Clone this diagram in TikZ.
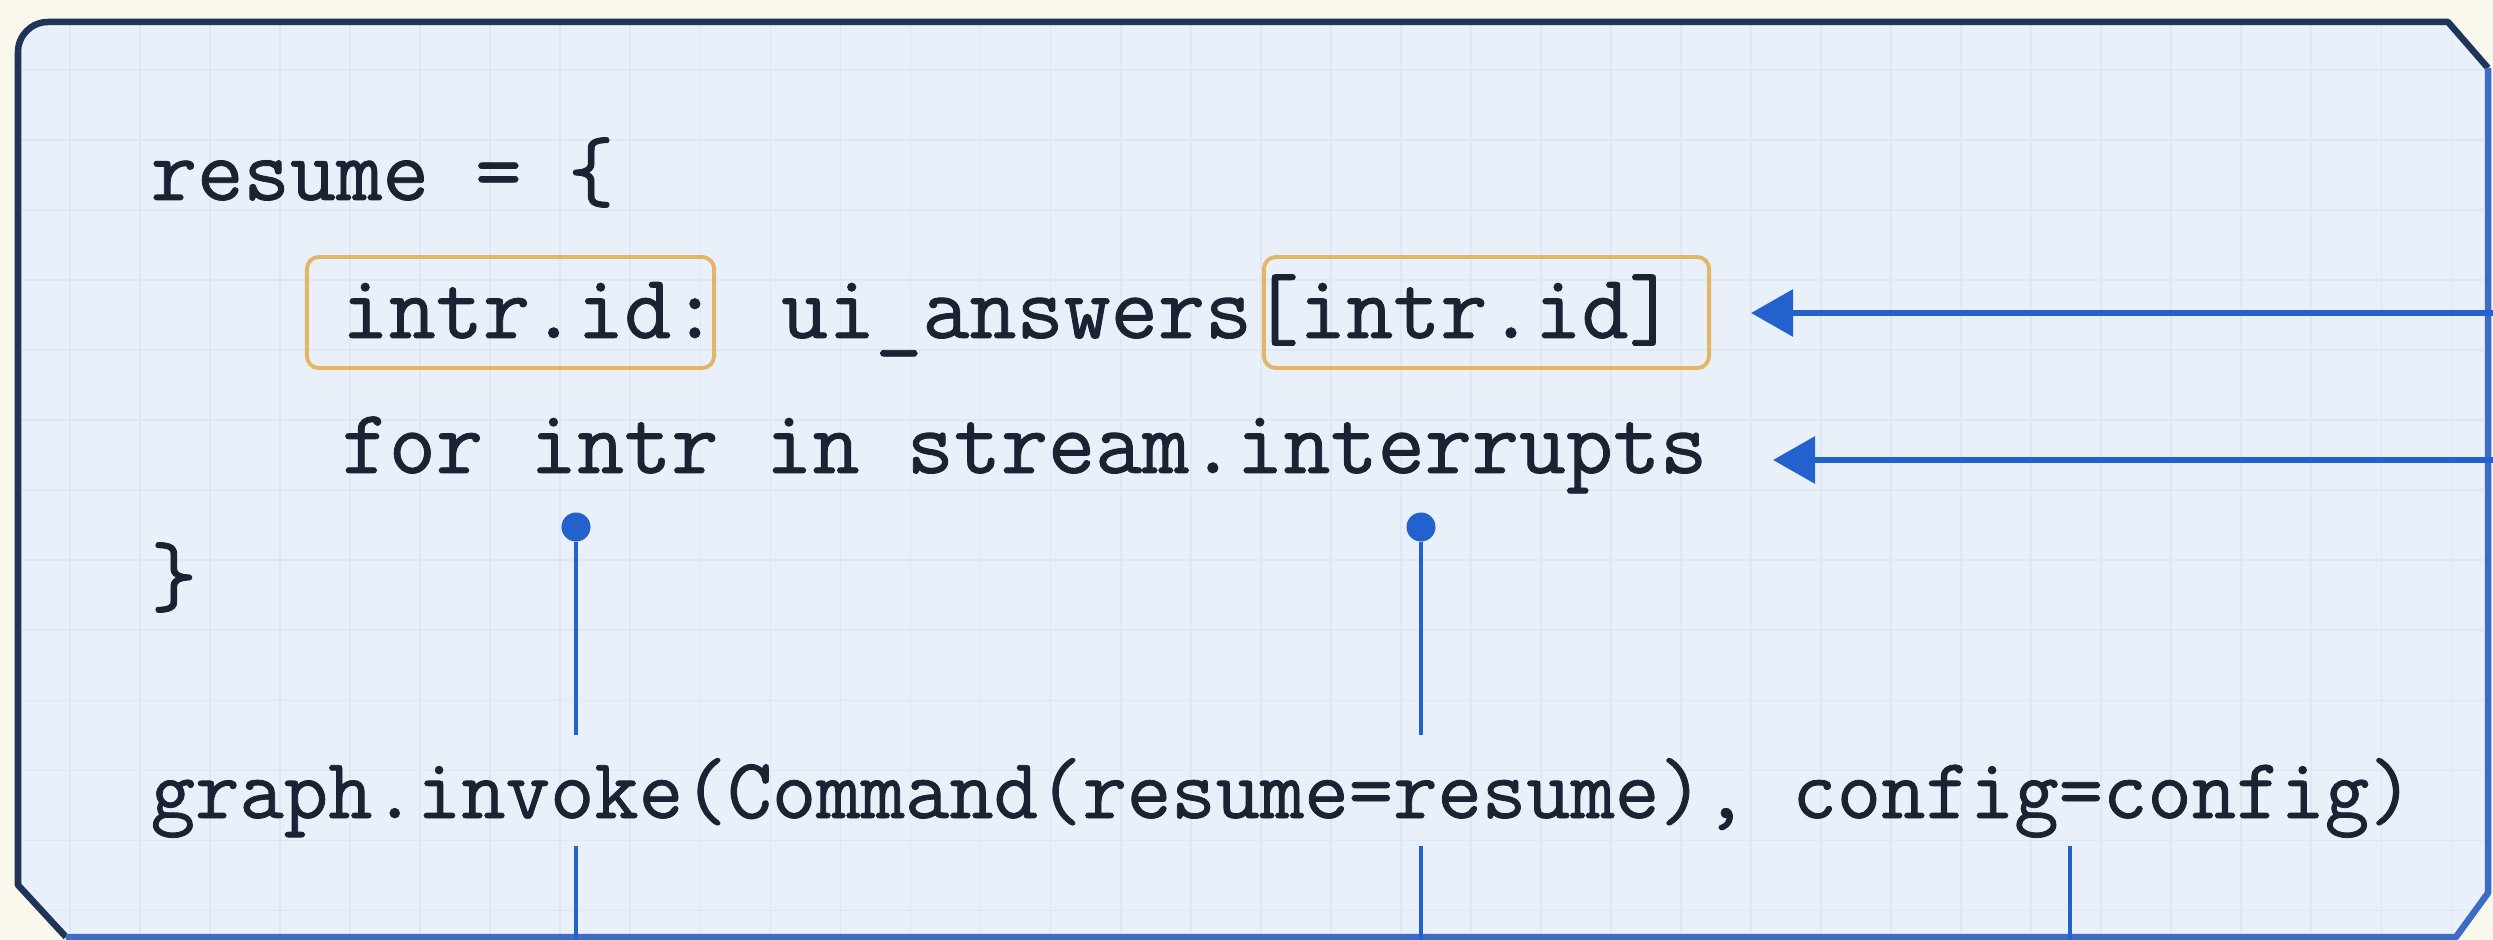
\documentclass[tikz,border=0pt]{standalone}
\usepackage{fontspec}
\newfontfamily\codefont[FakeBold=0.9]{Latin Modern Mono}
\usetikzlibrary{arrows.meta}
\definecolor{outerbg}{HTML}{FAF7EC}
\definecolor{panel}{HTML}{EAF0FA}
\definecolor{gridc}{HTML}{E0E7F4}
\definecolor{navy}{HTML}{1F3557}
\definecolor{edgeblue}{HTML}{3C6CC4}
\definecolor{linkblue}{HTML}{2362CC}
\definecolor{codec}{HTML}{1B2233}
\definecolor{gold}{HTML}{E0B766}
\begin{document}
\begin{tikzpicture}[x=0.01cm,y=-0.01cm,
  code/.style={anchor=base west,inner sep=0pt,text=codec,font=\fontsize{25.6}{30}\selectfont\codefont},
  codemid/.style={code,font=\fontsize{26}{31}\selectfont\codefont},
  codesmall/.style={code,font=\fontsize{24.5}{29}\selectfont\codefont},
  hlbox/.style={draw=gold,line width=1.1pt,rounded corners=0.12cm,inner sep=0pt},
  dotnode/.style={circle,fill=linkblue,inner sep=0pt,minimum size=0.29cm},
  arrowline/.style={draw=linkblue,line width=1.8pt,-{Triangle[length=0.42cm,width=0.46cm]}},
  stem/.style={draw=linkblue,line width=1.2pt},
  frameedge/.style={line width=0.065cm,line join=round}
]
\fill[outerbg] (0,0) rectangle (2493,940);
\useasboundingbox (0,0) rectangle (2493,940);
% panel
\fill[panel] (66,937) -- (18,885) [rounded corners=0.3cm] -- (18,22) -- (300,22) [sharp corners] -- (2448,22) -- (2488,68) -- (2488,893) -- (2456,937) -- cycle;
\begin{scope}
  \clip (66,937) -- (18,885) [rounded corners=0.3cm] -- (18,22) -- (300,22) [sharp corners] -- (2448,22) -- (2488,68) -- (2488,893) -- (2456,937) -- cycle;
  \draw[gridc,line width=0.5pt] (0,0) grid[step=0.7cm] (2493,940);
\end{scope}
% frame
\draw[navy,frameedge] (66,937) -- (18,885) [rounded corners=0.3cm] -- (18,22) -- (300,22) [sharp corners] -- (2448,22) -- (2488,68);
\draw[edgeblue,frameedge] (2488,68) -- (2488,893) -- (2456,937) -- (66,937);
% highlight boxes
\node[hlbox,minimum width=4.07cm,minimum height=1.11cm] (b1) at (510.5,312.5) {};
\node[hlbox,minimum width=4.45cm,minimum height=1.11cm] (b2) at (1486.5,312.5) {};
% code
\node[code] (l1) at (150,200) {resume = \{};
\node[codemid] (l2) at (341,338) {intr.id: ui\_answers[intr.id]};
\node[codemid] (l3) at (341,473) {for intr in stream.interrupts};
\node[code] (l4) at (150,605) {\}};
\node[codesmall] (l5) at (150,818) {graph.invoke(Command(resume=resume), config=config)};
% arrows from the right
\coordinate (r1) at (2493,313);
\coordinate (t1) at (1751,313);
\coordinate (r2) at (2493,460);
\coordinate (t2) at (1773,460);
\draw[arrowline] (r1) -- (t1);
\draw[arrowline] (r2) -- (t2);
% dots and stems
\node[dotnode] (d1) at (576,527) {};
\node[dotnode] (d2) at (1421,527) {};
\coordinate (s1a) at (576,735);
\coordinate (s1b) at (576,846);
\coordinate (s1c) at (576,940);
\coordinate (s2a) at (1421,735);
\coordinate (s2b) at (1421,846);
\coordinate (s2c) at (1421,940);
\coordinate (s3b) at (2070,846);
\coordinate (s3c) at (2070,940);
\draw[stem] (d1) -- (s1a);
\draw[stem] (s1b) -- (s1c);
\draw[stem] (d2) -- (s2a);
\draw[stem] (s2b) -- (s2c);
\draw[stem] (s3b) -- (s3c);
\end{tikzpicture}
\end{document}
